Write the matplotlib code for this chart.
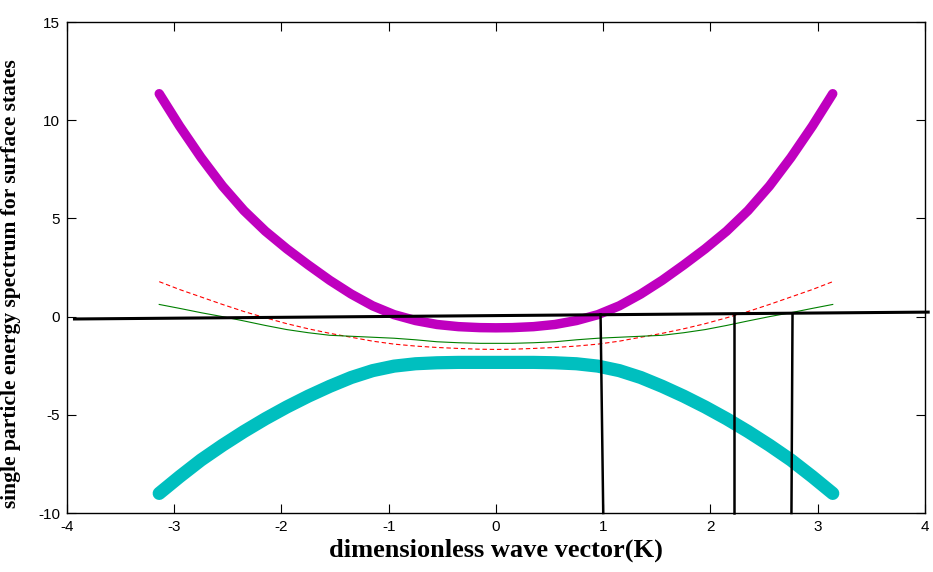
import numpy as np
import matplotlib
matplotlib.use("Agg")
import matplotlib.pyplot as plt

plt.rcParams['axes.unicode_minus'] = False

# wave vector samples
k = [-3.14, -2.95, -2.75, -2.55, -2.35, -2.15, -1.95, -1.75, -1.55, -1.35, -1.15, -0.95,
     -0.75, -0.55, -0.35, -0.15, 0.0, 0.15, 0.35, 0.55, 0.75, 0.95, 1.15, 1.35, 1.55,
     1.75, 1.95, 2.15, 2.35, 2.55, 2.75, 2.95, 3.14]

e_upper = [11.35, 9.7, 8.1, 6.65, 5.4, 4.35, 3.45, 2.63, 1.85, 1.15, 0.55, 0.1,
           -0.2, -0.4, -0.51, -0.56, -0.57, -0.56, -0.51, -0.4, -0.2, 0.1, 0.55, 1.15, 1.85,
           2.63, 3.45, 4.35, 5.4, 6.65, 8.1, 9.7, 11.35]
e_lower = [-9.0, -8.15, -7.3, -6.55, -5.85, -5.2, -4.6, -4.05, -3.55, -3.1, -2.75, -2.52,
           -2.4, -2.35, -2.33, -2.33, -2.33, -2.33, -2.33, -2.35, -2.4, -2.52, -2.75, -3.1, -3.55,
           -4.05, -4.6, -5.2, -5.85, -6.55, -7.3, -8.15, -9.0]
e_red = [1.78, 1.38, 1.0, 0.62, 0.26, -0.06, -0.36, -0.62, -0.85, -1.05, -1.25, -1.4,
         -1.5, -1.57, -1.62, -1.66, -1.67, -1.66, -1.62, -1.57, -1.5, -1.4, -1.25, -1.05, -0.85,
         -0.62, -0.36, -0.06, 0.26, 0.62, 1.0, 1.38, 1.78]
e_green = [0.62, 0.42, 0.2, 0.0, -0.22, -0.45, -0.66, -0.82, -0.95, -1.0, -1.05, -1.1,
           -1.18, -1.28, -1.33, -1.36, -1.36, -1.36, -1.33, -1.28, -1.18, -1.1, -1.05, -1.0, -0.95,
           -0.82, -0.66, -0.45, -0.22, 0.0, 0.2, 0.42, 0.62]

# Fermi-level line and the crossing markers
fermi_k = [-3.93, 4.03]
fermi_e = [-0.12, 0.23]
cross_top_k = [0.975, 2.215, 2.765]
cross_bot_k = [1.0, 2.215, 2.755]
cross_top_e = [0.12, 0.15, 0.17]

fig = plt.figure(figsize=(9.33, 5.72), dpi=100)
ax = fig.add_axes([0.0718, 0.1031, 0.9196, 0.8584])

ax.plot(k, e_lower, color='#00bfbf', lw=9.5, solid_capstyle='round', solid_joinstyle='round')
ax.plot(k, e_upper, color='#bf00bf', lw=6.8, solid_capstyle='round', solid_joinstyle='round')
ax.plot(k, e_red, color='red', lw=0.8, dashes=(4, 2.5))
ax.plot(k, e_green, color='green', lw=0.8)

ax.plot(fermi_k, fermi_e, color='black', lw=2.2, clip_on=False)
for kt, kb, et in zip(cross_top_k, cross_bot_k, cross_top_e):
    ax.plot([kt, kb], [et, -10], color='black', lw=1.8, clip_on=False)

ax.set_xlim(-4, 4)
ax.set_ylim(-10, 15)
ax.set_xticks(range(-4, 5))
ax.set_yticks(range(-10, 16, 5))
ax.tick_params(direction='in', length=6.5, width=0.8, top=True, right=True,
               labelsize=11, pad=5)
for lab in ax.get_xticklabels() + ax.get_yticklabels():
    lab.set_family('Liberation Sans')
for sp in ax.spines.values():
    sp.set_linewidth(1.0)

ax.set_xlabel('dimensionless wave vector(K)', family='Liberation Serif', weight='bold',
              fontsize=19, labelpad=3)
ax.set_ylabel('single particle energy spectrum for surface states', family='Liberation Serif',
              weight='bold', fontsize=15.5)
ax.yaxis.set_label_coords(-0.0535, 0.468)

fig.savefig('out.png', dpi=100)
